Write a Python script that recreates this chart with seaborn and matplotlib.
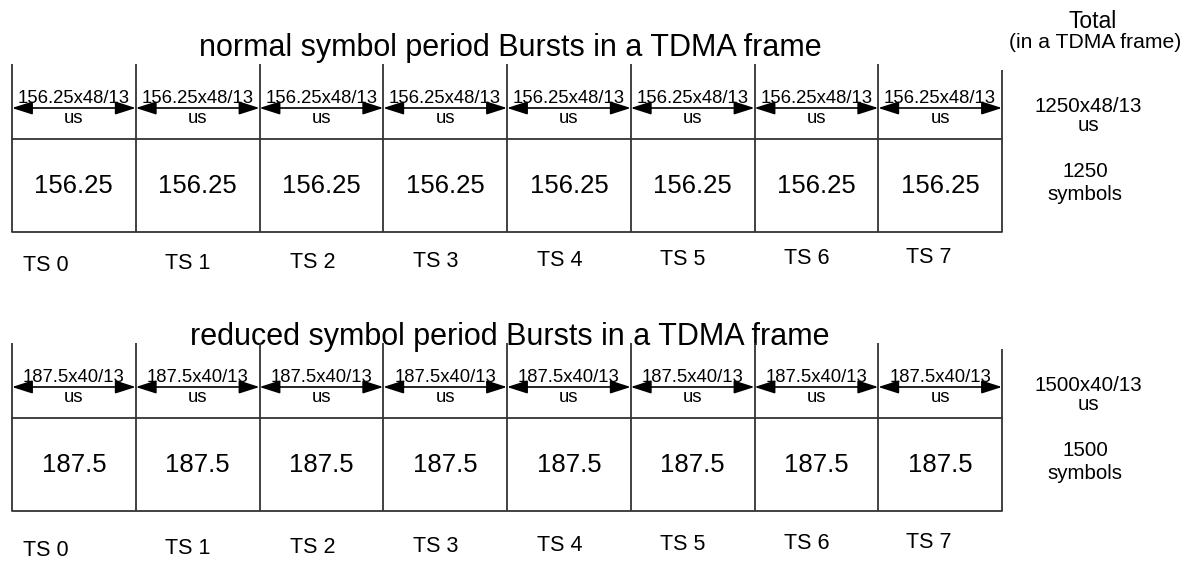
import matplotlib
matplotlib.use("Agg")
import matplotlib.pyplot as plt
import seaborn as sns

# ---------------- data ----------------
slot_labels = ["TS 0", "TS 1", "TS 2", "TS 3", "TS 4", "TS 5", "TS 6", "TS 7"]
normal_symbols = [156.25, 156.25, 156.25, 156.25, 156.25, 156.25, 156.25, 156.25]
reduced_symbols = [187.5, 187.5, 187.5, 187.5, 187.5, 187.5, 187.5, 187.5]
normal_factor = "48/13"
reduced_factor = "40/13"
normal_total = 1250
reduced_total = 1500
titles = ["normal symbol period Bursts in a TDMA frame",
          "reduced symbol period Bursts in a TDMA frame"]

# ---------------- style ----------------
sns.set_theme(style="white")
plt.rcParams["font.family"] = ["Liberation Sans", "DejaVu Sans"]

fig = plt.figure(figsize=(11.9, 5.61), dpi=100)
ax = fig.add_axes([0, 0, 1, 1])
ax.set_xlim(0, 1190)
ax.set_ylim(561, 0)
ax.axis("off")

X0, W = 12, 123.75
LINE = "#333333"
n = len(slot_labels)
edges = [X0 + i * W for i in range(n + 1)]

# TS label offsets (layout)
ts_dx = [-28, -10, -9, -9, -9, -10, -10, -11]


def draw_section(values, factor, total, title, yo, title_y, ts_y0, ts_y1):
    # yo: vertical offset of the section in pixels
    top, last_top = 64 + yo, 70 + yo
    div, bot, arr = 139 + yo, 232 + yo, 108 + yo
    ax.text(510, title_y, title, ha="center", va="baseline", fontsize=22,
            color="black", zorder=1)
    for i, x in enumerate(edges):
        t = last_top if i == n else top
        ax.plot([x, x], [t, bot], color=LINE, lw=1.3, zorder=3,
                solid_capstyle="butt")
    ax.plot([edges[0], edges[-1]], [div, div], color=LINE, lw=1.3, zorder=3)
    ax.plot([edges[0], edges[-1]], [bot, bot], color=LINE, lw=1.3, zorder=3)
    for i, v in enumerate(values):
        xl, xr = edges[i], edges[i + 1]
        xc = (xl + xr) / 2
        ax.annotate("", xy=(xr, arr), xytext=(xl, arr),
                    arrowprops=dict(arrowstyle="<|-|>,head_length=1.25,head_width=0.4",
                                    mutation_scale=10, color="black", lw=1.2,
                                    shrinkA=0, shrinkB=0), zorder=4)
        ax.text(xc, arr - 5, f"{v:g}x{factor}", ha="center", va="baseline",
                fontsize=13.3, color="black")
        ax.text(xc, arr + 15, "us", ha="center", va="baseline",
                fontsize=13.3, color="black")
        ax.text(xc, 193 + yo, f"{v:g}", ha="center",
                va="baseline", fontsize=18.5, color="black")
        ty = ts_y0 + (ts_y1 - ts_y0) * i / (n - 1)
        ax.text(xc + ts_dx[i], ty, slot_labels[i], ha="center", va="center",
                fontsize=15.5, color="black")
    # total column
    ax.text(1088, 112 + yo, f"{total}x{factor}", ha="center",
            va="baseline", fontsize=14.8, color="black")
    ax.text(1088, 131 + yo, "us", ha="center", va="baseline", fontsize=14.8,
            color="black")
    ax.text(1085, 177 + yo, f"{total}", ha="center", va="baseline",
            fontsize=14.8, color="black")
    ax.text(1085, 200 + yo, "symbols", ha="center", va="baseline",
            fontsize=14.8, color="black")


draw_section(normal_symbols, normal_factor, normal_total, titles[0], 0, 56, 265, 257)
draw_section(reduced_symbols, reduced_factor, reduced_total, titles[1], 279, 345, 550, 542)

ax.text(1093, 28, "Total", ha="center", va="baseline", fontsize=16.5, color="black")
ax.text(1095, 48, "(in a TDMA frame)", ha="center", va="baseline", fontsize=15.2,
        color="black")

fig.savefig("out.png", dpi=100, facecolor="white")
